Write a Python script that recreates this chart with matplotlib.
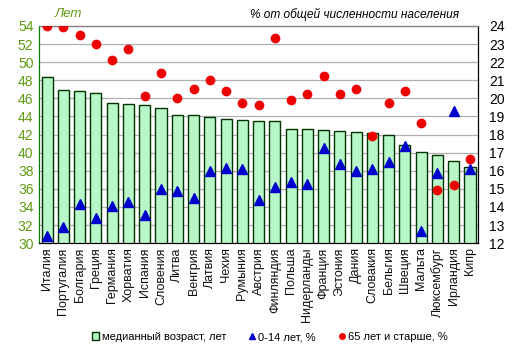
import numpy as np
import matplotlib
matplotlib.use('Agg')
import matplotlib.pyplot as plt
from matplotlib.lines import Line2D
from matplotlib.patches import Patch

plt.rcParams['font.family'] = ['Liberation Sans', 'DejaVu Sans']

countries = ['Италия', 'Португалия', 'Болгария', 'Греция', 'Германия', 'Хорватия',
             'Испания', 'Словения', 'Литва', 'Венгрия', 'Латвия', 'Чехия', 'Румыния',
             'Австрия', 'Финляндия', 'Польша', 'Нидерланды', 'Франция', 'Эстония',
             'Дания', 'Словакия', 'Бельгия', 'Швеция', 'Мальта', 'Люксембург',
             'Ирландия', 'Кипр']
median_age = [48.4, 46.9, 46.8, 46.6, 45.45, 45.4, 45.3, 44.9, 44.2, 44.2, 43.9, 43.7,
              43.6, 43.55, 43.55, 42.57, 42.57, 42.46, 42.35, 42.24, 42.2, 41.9, 40.8,
              40.1, 39.7, 39.1, 38.4]
age_0_14 = [12.4, 12.9, 14.15, 13.38, 14.08, 14.28, 13.56, 15.0, 14.89, 14.5, 16.0, 16.15,
            16.1, 14.38, 15.1, 15.37, 15.26, 17.25, 16.39, 15.98, 16.09, 16.46, 17.38,
            12.68, 15.89, 19.32, 16.09]
age_65 = [24.0, 23.96, 23.5, 22.99, 22.12, 22.73, 20.13, 21.4, 20.02, 20.52, 21.01, 20.4,
          19.74, 19.63, 23.35, 19.91, 20.24, 21.23, 20.24, 20.52, 17.92, 19.74, 20.42,
          18.63, 14.93, 15.22, 16.66]

x = np.arange(len(countries))
olive = '#5f9a10'

fig = plt.figure(figsize=(5.16, 3.56), dpi=100)
ax = fig.add_axes([0.0756, 0.317, 0.851, 0.61])
ax2 = ax.twinx()

ax.bar(x, median_age, width=0.68, color='#b8f8c8', edgecolor='#003300', linewidth=1.0, zorder=2)
ax.set_ylim(30, 54)
ax.set_yticks(np.arange(30, 55, 2))
ax.set_xlim(-0.5, len(countries) - 0.5)
ax.yaxis.grid(True, color='#b0b0b0', linewidth=0.9, zorder=0)
ax.set_axisbelow(True)
ax.tick_params(axis='y', colors=olive, labelsize=10, length=0, pad=4)
ax.tick_params(axis='x', length=0, labelsize=9, pad=3, colors='#111111')
ax.set_xticks(x)
ax.set_xticklabels(countries, rotation=90)

ax2.plot(x, age_0_14, linestyle='none', marker='^', color='#0000cc', markersize=7, zorder=5)
ax2.plot(x, age_65, linestyle='none', marker='o', color='#ee0000', markersize=6, zorder=5)
ax2.set_ylim(12, 24)
ax2.set_yticks(np.arange(12, 25, 1))
ax2.tick_params(axis='y', colors='black', labelsize=10, length=0, pad=8)
ax2.spines['left'].set_color('#008000')
ax2.spines['top'].set_color('#808080')
ax2.spines['right'].set_color('black')
ax2.spines['bottom'].set_color('black')

fig.text(0.132, 0.96, 'Лет', color=olive, fontsize=9.5, style='italic', va='center', ha='center')
fig.text(0.485, 0.96, '% от общей численности населения', color='black', fontsize=8.6, style='italic', va='center')

handles = [Patch(facecolor='#b8f8c8', edgecolor='#003300', label='медианный возраст, лет'),
           Line2D([], [], linestyle='none', marker='^', color='#0000cc', markersize=4, label='0-14 лет, %'),
           Line2D([], [], linestyle='none', marker='o', color='#ee0000', markersize=4, label='65 лет и старше, %')]
fig.legend(handles=handles, loc='center', bbox_to_anchor=(0.523, 0.053), ncol=3, frameon=False,
           fontsize=8, handlelength=0.7, handleheight=0.7, handletextpad=0.2, columnspacing=2.0)

fig.savefig('out.png', dpi=100)
